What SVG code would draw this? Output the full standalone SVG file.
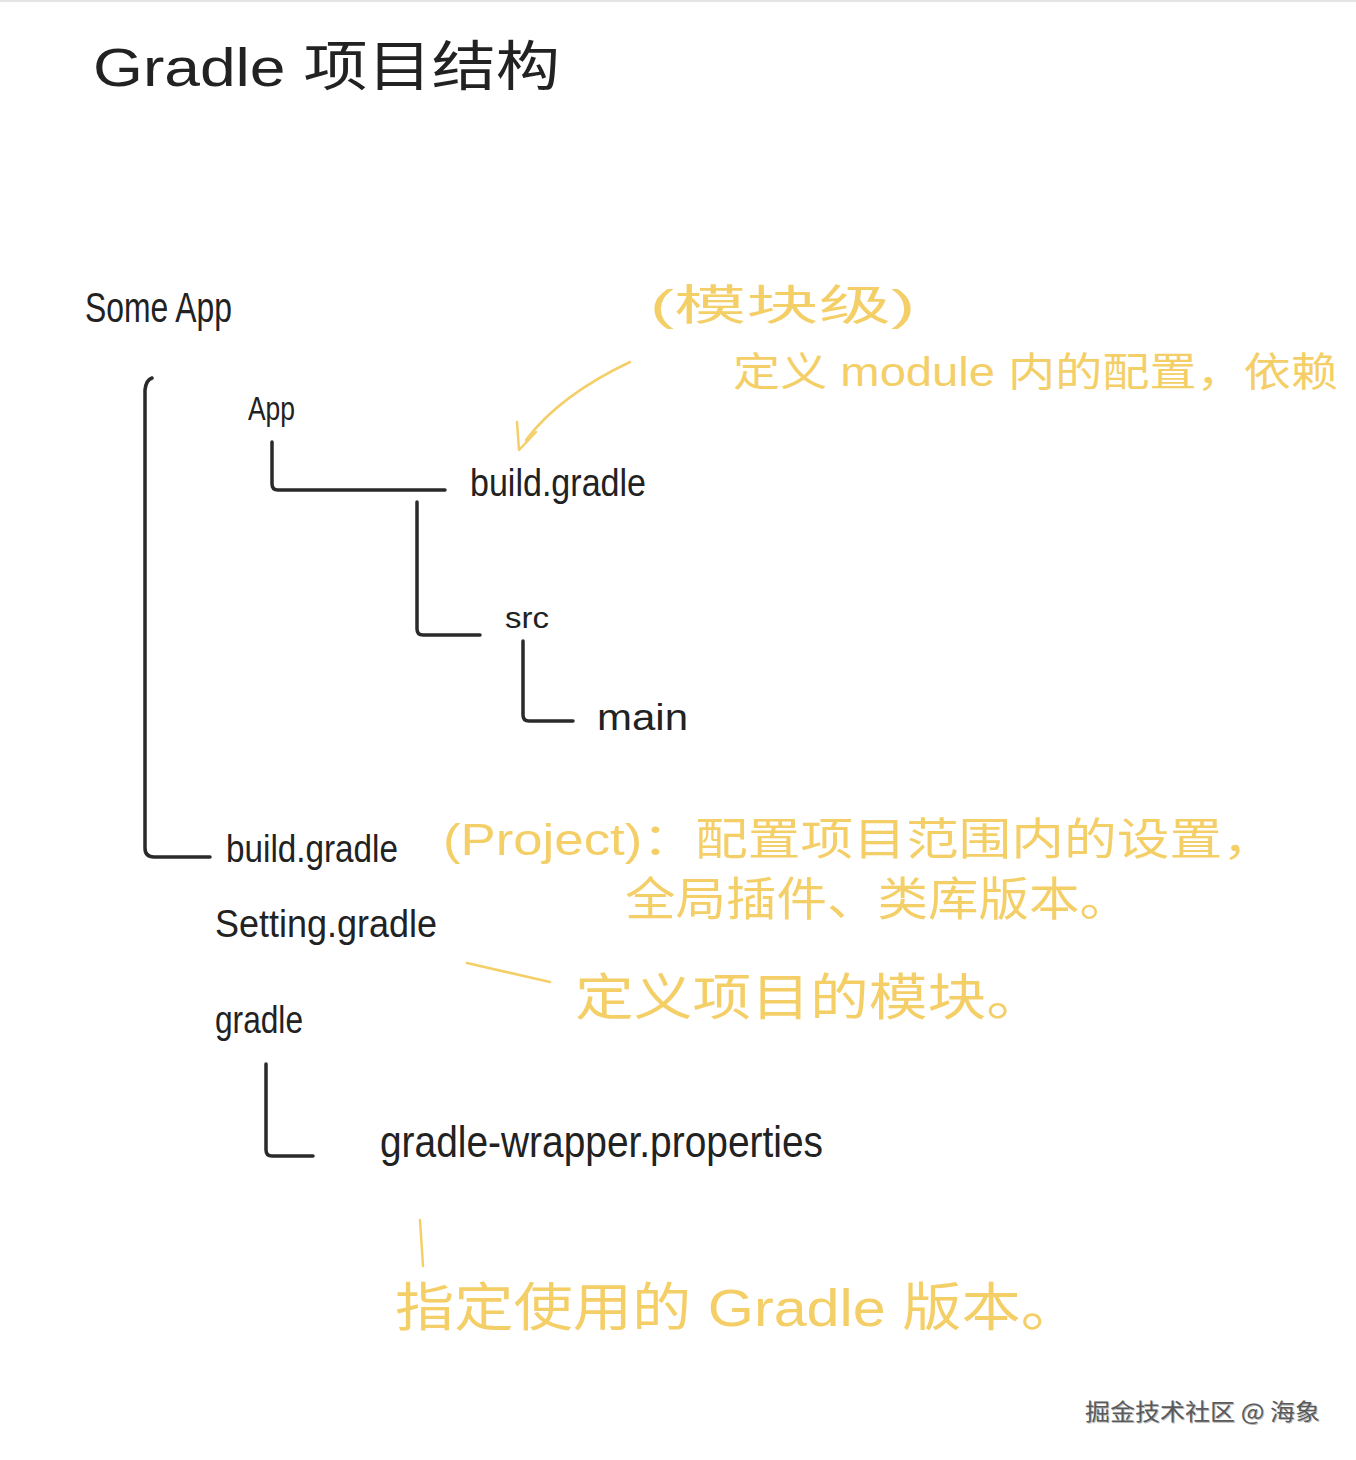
<svg xmlns="http://www.w3.org/2000/svg" width="1356" height="1460" viewBox="0 0 1356 1460">
  <style>
    .k { font-family: "Liberation Sans", "Noto Sans CJK SC", sans-serif; fill: #222222; }
    .y { font-family: "Liberation Sans", "Noto Sans CJK SC", sans-serif; fill: #F4CF68; }
    .tree { fill: none; stroke: #2a2a2a; stroke-width: 3.5; stroke-linecap: round; stroke-linejoin: round; }
    .note { fill: none; stroke: #F4CF68; stroke-width: 2.5; stroke-linecap: round; stroke-linejoin: round; }
    .wm { font-family: "Noto Sans CJK SC", sans-serif; font-size: 23px; }
  </style>
  <rect x="0" y="0" width="1356" height="1460" fill="#ffffff"/>
  <line x1="0" y1="1" x2="1356" y2="1" stroke="#e4e4e4" stroke-width="2"/>

  <g id="title">
    <text class="k" x="93" y="86" font-size="54" textLength="467" lengthAdjust="spacingAndGlyphs">Gradle 项目结构</text>
  </g>

  <g id="connectors">
    <path class="tree" d="M152,378 Q146,380 145,390 L145,848 Q145,857 154,857 L210,857"/>
    <path class="tree" d="M272,442 L272,484 Q272,490 278,490 L445,490"/>
    <path class="tree" d="M417,502 L417,629 Q417,635 423,635 L480,635"/>
    <path class="tree" d="M523,641 L523,715 Q523,721 529,721 L573,721"/>
    <path class="tree" d="M266,1064 L266,1150 Q266,1156 272,1156 L313,1156"/>
    <path class="note" d="M630,362 Q560,395 526,440"/>
    <path class="note" d="M517,422 L519,450 L536,432"/>
    <path class="note" d="M467,963 L550,982"/>
    <path class="note" d="M420,1220 L423,1266" stroke-width="3"/>
  </g>

  <g id="node-someapp">
    <text class="k" x="85" y="322" font-size="42" textLength="147" lengthAdjust="spacingAndGlyphs">Some App</text>
  </g>
  <g id="node-app">
    <text class="k" x="248" y="420" font-size="34" textLength="47" lengthAdjust="spacingAndGlyphs">App</text>
  </g>
  <g id="node-app-build-gradle">
    <text class="k" x="470" y="496" font-size="38" textLength="176" lengthAdjust="spacingAndGlyphs">build.gradle</text>
  </g>
  <g id="node-src">
    <text class="k" x="505" y="628" font-size="30" textLength="44" lengthAdjust="spacingAndGlyphs">src</text>
  </g>
  <g id="node-main">
    <text class="k" x="597" y="730" font-size="36" textLength="91" lengthAdjust="spacingAndGlyphs">main</text>
  </g>
  <g id="node-build-gradle">
    <text class="k" x="226" y="862" font-size="38" textLength="172" lengthAdjust="spacingAndGlyphs">build.gradle</text>
  </g>
  <g id="node-setting-gradle">
    <text class="k" x="215" y="937" font-size="38" textLength="222" lengthAdjust="spacingAndGlyphs">Setting.gradle</text>
  </g>
  <g id="node-gradle">
    <text class="k" x="215" y="1033" font-size="38" textLength="88" lengthAdjust="spacingAndGlyphs">gradle</text>
  </g>
  <g id="node-wrapper">
    <text class="k" x="380" y="1157" font-size="44" textLength="443" lengthAdjust="spacingAndGlyphs">gradle-wrapper.properties</text>
  </g>

  <g id="note-module">
    <text class="y" x="650" y="320" font-size="42" textLength="265" lengthAdjust="spacingAndGlyphs">(模块级)</text>
    <text class="y" x="733" y="386" font-size="40" textLength="605" lengthAdjust="spacingAndGlyphs">定义 module 内的配置，依赖</text>
  </g>
  <g id="note-project">
    <text class="y" x="443" y="855" font-size="44" textLength="832" lengthAdjust="spacingAndGlyphs">(Project)：配置项目范围内的设置，</text>
    <text class="y" x="625" y="915" font-size="46" textLength="505" lengthAdjust="spacingAndGlyphs">全局插件、类库版本。</text>
  </g>
  <g id="note-setting">
    <text class="y" x="575" y="1015" font-size="50" textLength="470" lengthAdjust="spacingAndGlyphs">定义项目的模块。</text>
  </g>
  <g id="note-wrapper">
    <text class="y" x="395" y="1326" font-size="52" textLength="685" lengthAdjust="spacingAndGlyphs">指定使用的 Gradle 版本。</text>
  </g>

  <g id="watermark">
    <text class="wm" x="1086" y="1421" fill="#bbbbbb" textLength="235" lengthAdjust="spacingAndGlyphs">掘金技术社区 @ 海象</text>
    <text class="wm" x="1085" y="1420" fill="#5a5a5a" textLength="235" lengthAdjust="spacingAndGlyphs">掘金技术社区 @ 海象</text>
  </g>
</svg>
